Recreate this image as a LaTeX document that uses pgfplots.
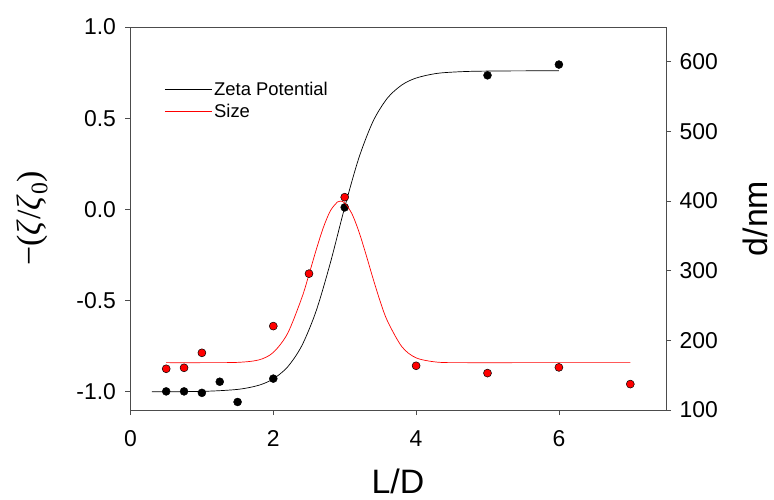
\documentclass[border=0pt]{standalone}
\usepackage{pgfplots}
\pgfplotsset{compat=1.18}
\usepackage{fontspec}
\setmainfont{Liberation Sans}
\newfontfamily\seriffont{Liberation Serif}

\begin{document}
\begin{tikzpicture}
\useasboundingbox (-130.5bp,-90bp) rectangle (643.5bp,410bp);
\begin{axis}[
  at={(0,0)}, anchor=south west,
  scale only axis, width=535.5bp, height=383bp,
  xmin=0, xmax=7.5, ymin=-1.1, ymax=1.0,
  axis line style={black!70, line width=0.8pt},
  xtick={0,2,4,6}, xticklabels={0,2,4,6},
  ytick={-1,-0.5,0,0.5,1}, yticklabels={-1.0,-0.5,0.0,0.5,1.0},
  xtick pos=lower, ytick pos=left, tick align=outside,
  major tick length=5bp, tick style={black!70, line width=0.8pt},
  ticklabel style={font=\fontsize{23}{27}\selectfont},
  xticklabel style={yshift=-12bp},
  yticklabel style={xshift=-6bp},
  legend style={draw=none, fill=none, at={(rel axis cs:0.063,0.862)}, anchor=north west,
    font=\fontsize{18.5}{22}\selectfont, row sep=3bp, inner sep=0pt},
  legend cell align=left,
  legend image code/.code={\draw[#1, line width=0.7pt] (0bp,0bp) -- (40bp,0bp); \path (40bp,0bp) -- (47bp,0bp);},
]
\addplot[black, line width=0.7pt, smooth] coordinates {
(0.3,-1.000) (1.0,-0.998) (1.5,-0.987) (1.8,-0.964) (2.0,-0.929) (2.2,-0.864)
(2.4,-0.747) (2.6,-0.557) (2.8,-0.292) (3.0,0.011) (3.2,0.284) (3.4,0.485)
(3.6,0.611) (3.8,0.682) (4.0,0.720) (4.3,0.746) (4.7,0.756) (5.2,0.759) (6.0,0.760)};
\addlegendentry{Zeta Potential}
\addlegendimage{red}
\addlegendentry{Size}
\addplot[only marks, mark=*, mark size=4bp, mark options={fill=black, draw=black}, forget plot] coordinates {
(0.5,-0.998) (0.75,-0.998) (1.0,-1.006) (1.25,-0.945) (1.5,-1.056) (2.0,-0.928)
(3.0,0.011) (5.0,0.735) (6.0,0.794)};
\end{axis}
\begin{axis}[
  at={(0,0)}, anchor=south west,
  scale only axis, width=535.5bp, height=383bp,
  xmin=0, xmax=7.5, ymin=100, ymax=650,
  axis x line=none, axis y line*=right,
  axis line style={black!70, line width=0.8pt},
  ytick={100,200,300,400,500,600}, yticklabels={100,200,300,400,500,600},
  ytick pos=right, tick align=outside,
  major tick length=5bp, tick style={black!70, line width=0.8pt},
  ticklabel style={font=\fontsize{23}{27}\selectfont},
  yticklabel style={xshift=5bp},
]
\addplot[red, line width=0.7pt, smooth] coordinates {
(0.5,168.0) (1.0,168.0) (1.5,168.4) (1.8,172.0) (2.0,182.7) (2.2,209.9) (2.4,261.3)
(2.5,294.7) (2.6,329.7) (2.7,361.8) (2.8,386.2) (2.9,398.8) (2.94,400.0) (3.0,397.4)
(3.1,382.1) (3.2,355.8) (3.3,322.7) (3.4,287.8) (3.5,255.1) (3.6,227.5) (3.8,191.0)
(4.0,174.9) (4.3,168.7) (4.7,168.0) (5.5,168.0) (7.0,168.0)};
\addplot[only marks, mark=*, mark size=4bp, mark options={fill=red, draw=black, line width=0.5pt}] coordinates {
(0.5,159.2) (0.75,160.6) (1.0,182.1) (2.0,220.5) (2.5,295.8) (3.0,405.6)
(4.0,163.5) (5.0,153.0) (6.0,161.2) (7.0,137.2)};
\end{axis}
\node[font=\fontsize{34}{40}\selectfont, anchor=base] at (267.5bp,-83.5bp) {L/D};
\node[font=\fontsize{34}{40}\selectfont, rotate=90, anchor=center] at (-98.5bp,191.5bp) {\seriffont −(\textit{ζ}/\textit{ζ}\textsubscript{0})};
\node[font=\fontsize{34}{40}\selectfont, rotate=90, anchor=center] at (624.5bp,191.5bp) {d/nm};
\end{tikzpicture}
\end{document}
